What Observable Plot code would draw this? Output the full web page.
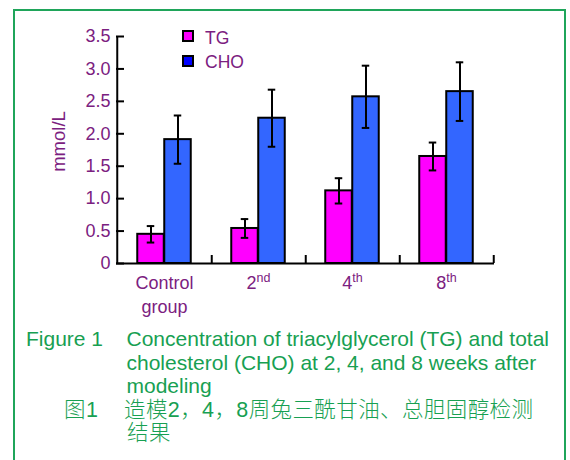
<!DOCTYPE html>
<html>
<head>
<meta charset="utf-8">
<script src="https://cdn.jsdelivr.net/npm/d3@7"></script>
<script src="https://cdn.jsdelivr.net/npm/@observablehq/plot@0.6"></script>
<style>
  html, body { margin: 0; padding: 0; background: #ffffff; }
  #wrap { position: relative; width: 570px; height: 460px; overflow: hidden; background: #ffffff; font-family: "Liberation Sans", Arial, sans-serif; }
  #box { position: absolute; left: 13px; top: 9px; width: 549px; height: 480px; border: 2px solid #1fa55a; }
  #chart { position: absolute; left: 0; top: 0; }
  .leg-sq { position: absolute; width: 12px; height: 12px; box-sizing: border-box; border: 2px solid #000; }
  .leg-tx { position: absolute; font-size: 17.5px; line-height: 17px; color: #7b2080; white-space: nowrap; }
  .cap { position: absolute; color: #17a052; white-space: pre; }
  .en { font-size: 21px; line-height: 23.7px; font-family: "Liberation Sans", Arial, sans-serif; }
  .zh { font-size: 21.5px; line-height: 23.5px; letter-spacing: 0.4px; font-weight: 300; font-family: "Liberation Sans", "Noto Sans CJK SC", sans-serif; }
</style>
</head>
<body>
<div id="wrap">
  <div id="box"></div>
  <div id="chart"></div>
  <div id="legend"></div>
  <div class="cap en" style="left:26px; top:326.9px;">Figure 1</div>
  <div class="cap en" style="left:126.5px; top:326.9px;">Concentration of triacylglycerol (TG) and total
cholesterol (CHO) at 2, 4, and 8 weeks after
modeling</div>
  <div class="cap zh" style="left:64px; top:398.8px;">图1</div>
  <div class="cap zh" style="left:124px; top:398.8px;">造模2，4，8周兔三酰甘油、总胆固醇检测</div>
  <div class="cap zh" style="left:127px; top:422.3px;">结果</div>
</div>
<script>
// ---- data ----
const groups = ["Control group", "2nd", "4th", "8th"];
const groupLabels = ["Control\ngroup", "2nd", "4th", "8th"];
const series = ["TG", "CHO"];
const tgMean = [0.45, 0.54, 1.12, 1.65];
const tgErr  = [0.127, 0.145, 0.195, 0.215];
const choMean = [1.91, 2.24, 2.57, 2.65];
const choErr  = [0.372, 0.44, 0.48, 0.452];
const yTicks = [0, 0.5, 1, 1.5, 2, 2.5, 3, 3.5];
const yLabel = "mmol/L";
const barColors = ["#ff00ff", "#3366ff"];
const legendColors = ["#ff00ff", "#0000ff"];

const purple = "#7b2080";
const tg = groups.map((g, i) => ({group: g, series: "TG", value: tgMean[i], err: tgErr[i]}));
const cho = groups.map((g, i) => ({group: g, series: "CHO", value: choMean[i], err: choErr[i]}));

const W = 570, H = 320;
const mL = 116, mR = 76, mT = 36, mB = 57;
const band = (W - mL - mR) / groups.length; // 94.5
const barW = 27;
const outer = (band - 2 * barW) / 2;       // 20.25
const capW = 8;

function bars(data, k) {
  const left = outer + k * barW;
  return Plot.barY(data, {
    x: "group", y: "value", fill: barColors[k], stroke: "#000", strokeWidth: 2,
    insetLeft: left, insetRight: band - left - barW
  });
}
function errs(data, k) {
  const c = outer + k * barW + barW / 2;
  return [
    Plot.ruleX(data, {x: "group", y1: d => d.value - d.err, y2: d => d.value + d.err, dx: c - band / 2, stroke: "#000", strokeWidth: 2}),
    Plot.tickY(data, {x: "group", y: d => d.value + d.err, insetLeft: c - capW / 2, insetRight: band - c - capW / 2, stroke: "#000", strokeWidth: 2}),
    Plot.tickY(data, {x: "group", y: d => d.value - d.err, insetLeft: c - capW / 2, insetRight: band - c - capW / 2, stroke: "#000", strokeWidth: 2})
  ];
}

const plot = Plot.plot({
  width: W, height: H,
  marginLeft: mL, marginRight: mR, marginTop: mT, marginBottom: mB,
  style: {background: "transparent", fontFamily: "'Liberation Sans', Arial, sans-serif", overflow: "visible"},
  x: {type: "band", domain: groups, padding: 0, axis: null},
  y: {domain: [0, 3.5], axis: null},
  marks: [
    bars(tg, 0),
    bars(cho, 1),
    ...errs(tg, 0),
    ...errs(cho, 1),
    // axis lines
    Plot.ruleY([0], {stroke: "#000", strokeWidth: 2}),
    Plot.ruleX([groups[0]], {dx: -band / 2, stroke: "#000", strokeWidth: 2}),
    // inward y ticks
    Plot.ruleY(yTicks, {y: d => d, insetRight: (W - mL - mR) - 8, stroke: "#000", strokeWidth: 2}),
    // inward x ticks at group boundaries
    Plot.ruleX(groups, {x: d => d, dx: band / 2, insetTop: (H - mT - mB) - 8, stroke: "#000", strokeWidth: 2}),
    // y tick labels
    Plot.text(yTicks, {y: d => d, frameAnchor: "left", textAnchor: "end", dx: -6, text: d => d === 0 ? "0" : d.toFixed(1), fontSize: 18, fill: purple}),
    // x labels
    Plot.text(groups, {x: d => d, frameAnchor: "bottom", lineAnchor: "top", dy: 9, text: (d, i) => groupLabels[i], fontSize: 18, lineHeight: 1.3, fill: purple}),
    // y axis label
    Plot.text([yLabel], {frameAnchor: "left", textAnchor: "middle", rotate: -90, dx: -57, dy: -8.5, text: d => d, fontSize: 18.5, fill: purple})
  ]
});

// superscript ordinals
plot.querySelectorAll("text").forEach(t => {
  const m = /^(\d+)(st|nd|rd|th)$/.exec(t.textContent);
  if (m && t.children.length === 0) {
    t.textContent = m[1];
    const ts = document.createElementNS("http://www.w3.org/2000/svg", "tspan");
    ts.setAttribute("font-size", "12.5");
    ts.setAttribute("dy", "-7");
    ts.textContent = m[2];
    t.appendChild(ts);
  }
});
document.getElementById("chart").appendChild(plot);

// legend
const leg = document.getElementById("legend");
series.forEach((s, i) => {
  const sq = document.createElement("div");
  sq.className = "leg-sq";
  sq.style.left = "181.5px";
  sq.style.top = (30 + i * 24.5) + "px";
  sq.style.background = legendColors[i];
  leg.appendChild(sq);
  const tx = document.createElement("div");
  tx.className = "leg-tx";
  tx.style.left = "205px";
  tx.style.top = (29.6 + i * 24.3) + "px";
  tx.textContent = s;
  leg.appendChild(tx);
});
</script>
</body>
</html>
